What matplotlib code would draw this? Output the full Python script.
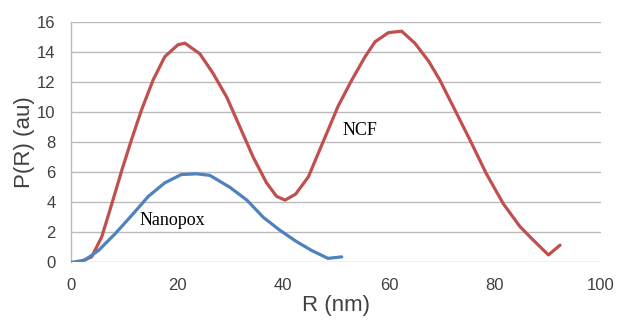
import matplotlib
matplotlib.use("Agg")
import matplotlib.pyplot as plt

ncf_r = [1.4, 3.9, 5.8, 7.7, 9.6, 11.4, 13.3, 15.5, 17.7, 20.2, 21.5, 24.3, 26.8,
         29.4, 31.9, 34.4, 36.9, 38.8, 40.4, 42.4, 44.8, 46.7, 48.5, 50.4, 53.0,
         55.5, 57.4, 59.9, 62.4, 64.9, 67.5, 69.6, 72.1, 75.3, 78.4, 81.6, 84.7,
         87.2, 90.1, 92.3]
ncf_p = [0.0, 0.37, 1.7, 3.9, 6.15, 8.15, 10.15, 12.15, 13.7, 14.5, 14.6, 13.9, 12.6,
         11.0, 9.0, 7.0, 5.3, 4.4, 4.15, 4.55, 5.7, 7.3, 8.8, 10.4, 12.15,
         13.7, 14.7, 15.3, 15.4, 14.6, 13.4, 12.15, 10.4, 8.15, 5.9, 3.9, 2.4,
         1.5, 0.5, 1.15]

nano_r = [0.1, 2.6, 5.2, 8.3, 11.5, 14.6, 17.7, 20.8, 23.7, 26.2, 30.0, 33.2,
          36.3, 39.4, 42.5, 45.4, 48.5, 51.1]
nano_p = [0.0, 0.15, 0.8, 1.9, 3.15, 4.4, 5.3, 5.85, 5.9, 5.8, 5.0, 4.15,
          3.0, 2.15, 1.4, 0.8, 0.27, 0.37]

x_ticks = [0, 20, 40, 60, 80, 100]
y_ticks = [0, 2, 4, 6, 8, 10, 12, 14, 16]

plt.rcParams['font.family'] = ['Liberation Sans', 'DejaVu Sans']

fig = plt.figure(figsize=(6.19, 3.26), dpi=100)
ax = fig.add_axes([0.1147, 0.195, 0.856, 0.737])

ax.plot(ncf_r, ncf_p, color='#C0504D', lw=2.3, solid_joinstyle='round', solid_capstyle='round', zorder=3)
ax.plot(nano_r, nano_p, color='#4F81BD', lw=2.3, solid_joinstyle='round', solid_capstyle='round', zorder=3)

ax.set_xlim(0, 100)
ax.set_ylim(0, 16)
ax.set_xticks(x_ticks)
ax.set_yticks(y_ticks)
ax.grid(axis='y', color='#BBBBBB', lw=1.0)
ax.set_axisbelow(True)
for s in ['top', 'right', 'bottom']:
    ax.spines[s].set_visible(False)
ax.spines['left'].set_color('#BBBBBB')
ax.spines['left'].set_linewidth(1.0)
ax.tick_params(length=0, labelsize=12, colors='#404040')
ax.tick_params(axis='y', pad=11)
ax.tick_params(axis='x', pad=11)

ax.set_xlabel('R (nm)', fontsize=16, color='#404040', labelpad=1.5)
ax.set_ylabel('P(R) (au)', fontsize=16, color='#404040', labelpad=1.5)

ax.text(19.1, 2.5, 'Nanopox', family='Liberation Serif', fontsize=13, ha='center', va='baseline')
ax.text(54.5, 8.5, 'NCF', family='Liberation Serif', fontsize=13, ha='center', va='baseline')

fig.savefig('out.png', dpi=100)
